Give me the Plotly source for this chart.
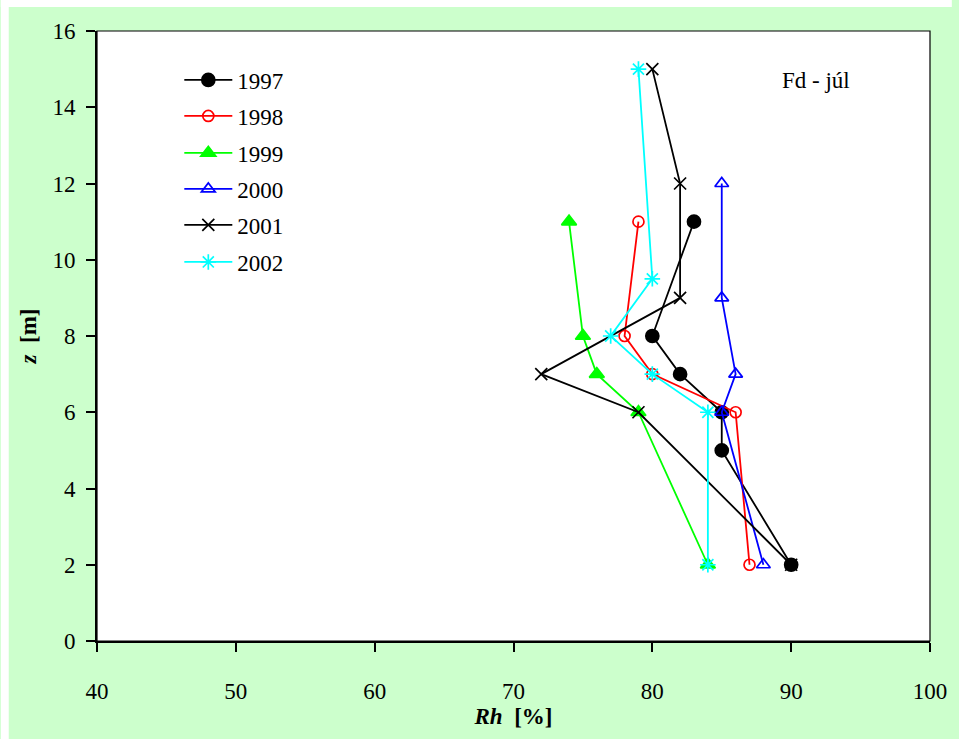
import plotly.graph_objects as go

# ---- data (Rh [%] vs z [m]) ----
z_1997 = [2, 5, 6, 7, 8, 11]
rh_1997 = [90, 85, 85, 82, 80, 83]

z_1998 = [2, 6, 7, 8, 11]
rh_1998 = [87, 86, 80, 78, 79]

z_1999 = [2, 6, 7, 8, 11]
rh_1999 = [84, 79, 76, 75, 74]

z_2000 = [2, 6, 7, 9, 12]
rh_2000 = [88, 85, 86, 85, 85]

z_2001 = [2, 6, 7, 9, 12, 15]
rh_2001 = [90, 79, 72, 82, 82, 80]

z_2002 = [2, 6, 7, 8, 9.5, 15]
rh_2002 = [84, 84, 80, 77, 80, 79]

x_ticks = [40, 50, 60, 70, 80, 90, 100]
y_ticks = [0, 2, 4, 6, 8, 10, 12, 14, 16]

FONT = "Liberation Serif, Times New Roman, Times, serif"
FS = 23

series = [
    ("1997", rh_1997, z_1997, "black", "circle", 13),
    ("1998", rh_1998, z_1998, "#FF0000", "circle-open", 11),
    ("1999", rh_1999, z_1999, "#00FF00", "triangle-up", 13),
    ("2000", rh_2000, z_2000, "#0000FF", "triangle-up-open", 12),
    ("2001", rh_2001, z_2001, "black", "x-thin-open", 12),
    ("2002", rh_2002, z_2002, "#00FFFF", "asterisk-open", 13),
]

W, H = 959, 739
L, R, T, B = 97, 22, 31, 98
pw = W - L - R
ph = H - T - B

legend_rows_px = [80, 116, 153, 189, 225, 262]

fig = go.Figure()
legends = {}
for i, (name, xs, ys, col, sym, size) in enumerate(series):
    lname = "legend" if i == 0 else f"legend{i + 1}"
    fig.add_trace(go.Scatter(
        x=xs, y=ys, name=name, mode="lines+markers",
        line=dict(color=col, width=1.8),
        marker=dict(symbol=sym, size=size, color=col,
                    line=dict(color=col, width=1.7)),
        legend=lname,
    ))
    legends[lname] = dict(
        x=(180 - L) / pw, y=(H - B - legend_rows_px[i]) / ph,
        xanchor="left", yanchor="middle",
        bgcolor="rgba(0,0,0,0)", borderwidth=0,
        font=dict(family=FONT, size=FS, color="black"),
        itemwidth=48,
    )

fig.update_layout(
    width=W, height=H,
    margin=dict(l=L, r=R, t=T, b=B, pad=0),
    paper_bgcolor="#CCFFCC",
    plot_bgcolor="white",
    font=dict(family=FONT, size=FS, color="black"),
    showlegend=True,
    xaxis=dict(
        range=[40, 100], tickvals=x_ticks, ticks="outside", ticklen=9,
        tickwidth=1.5, tickcolor="black",
        showline=True, linecolor="black", linewidth=2,
        showgrid=False, zeroline=False,
        ticklabelstandoff=19,
        tickfont=dict(family=FONT, size=FS),
        title=dict(text="<b><i>Rh</i>  [%]</b>", font=dict(family=FONT, size=FS),
                   standoff=3),
    ),
    yaxis=dict(
        range=[0, 16], tickvals=y_ticks, ticks="outside", ticklen=9,
        tickwidth=1.5, tickcolor="black",
        showline=True, linecolor="black", linewidth=2,
        showgrid=False, zeroline=False,
        ticklabelstandoff=6,
        tickfont=dict(family=FONT, size=FS),
        title=dict(text="<b><i>z</i>  [m]</b>", font=dict(family=FONT, size=FS),
                   standoff=9),
    ),
    annotations=[
        dict(text="Fd - júl", xref="paper", yref="paper",
             x=(822 - L) / pw, y=(H - B - 80) / ph,
             xanchor="center", yanchor="middle", showarrow=False,
             font=dict(family=FONT, size=FS, color="black")),
    ],
    **legends,
)

# white strips outside the green frame (left and top)
fig.add_shape(type="rect", xref="paper", yref="paper",
              x0=-L / pw, x1=(8 - L) / pw, y0=-B / ph, y1=1 + T / ph,
              fillcolor="white", line=dict(width=0), layer="above")
fig.add_shape(type="rect", xref="paper", yref="paper",
              x0=-L / pw, x1=1 + R / pw, y0=1 + (T - 7) / ph, y1=1 + T / ph,
              fillcolor="white", line=dict(width=0), layer="above")
# thin border around plot area (top/right)
fig.add_shape(type="rect", xref="paper", yref="paper",
              x0=0, x1=1, y0=0, y1=1,
              fillcolor="rgba(0,0,0,0)", line=dict(color="black", width=1.2),
              layer="above")

fig.write_html("out.html")
